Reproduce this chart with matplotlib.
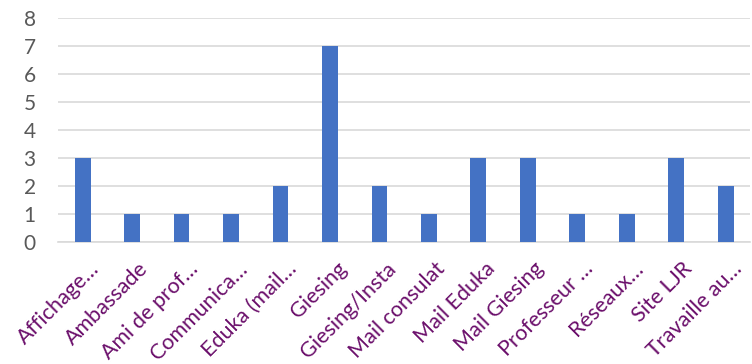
import matplotlib
matplotlib.use('Agg')
import matplotlib.pyplot as plt
import matplotlib.transforms as mtransforms
import numpy as np

## catégories et nombre de réponses
categories = ['Affichage…', 'Ambassade', 'Ami de prof…', 'Communica…', 'Eduka (mail…',
              'Giesing', 'Giesing/Insta', 'Mail consulat', 'Mail Eduka', 'Mail Giesing',
              'Professeur …', 'Réseaux…', 'Site LJR', 'Travaille au…']
valeurs = [3, 1, 1, 1, 2, 7, 2, 1, 3, 3, 1, 1, 3, 2]

plt.rcParams['font.family'] = ['Lato', 'DejaVu Sans']

fig = plt.figure(figsize=(7.52, 3.64), dpi=100)
ax = fig.add_axes([0.077, 0.335, 0.921, 0.6155])

x = np.arange(len(categories))
ax.bar(x, valeurs, width=0.32, color='#4472C4', zorder=3)

ax.set_xlim(-0.5, len(categories) - 0.5)
ax.set_ylim(0, 8)
ax.set_yticks(range(0, 9))
ax.yaxis.grid(True, color='#D9D9D9', linewidth=1.2, zorder=0)
ax.set_xticks(x)
ax.set_xticklabels(categories, rotation=45, ha='right', rotation_mode='anchor',
                   color='#6B0F6B', fontsize=15.5)
ax.tick_params(axis='y', colors='#595959', labelsize=15, length=0, pad=16)
ax.tick_params(axis='x', length=0, pad=12)
# décalage des étiquettes vers la droite comme dans Excel
decal = mtransforms.ScaledTranslation(6 / 100, 0, fig.dpi_scale_trans)
for lbl in ax.get_xticklabels():
    lbl.set_transform(lbl.get_transform() + decal)
for s in ['top', 'right', 'left']:
    ax.spines[s].set_visible(False)
ax.spines['bottom'].set_color('#D9D9D9')
ax.spines['bottom'].set_linewidth(1.2)

fig.savefig('out.png', dpi=100)
